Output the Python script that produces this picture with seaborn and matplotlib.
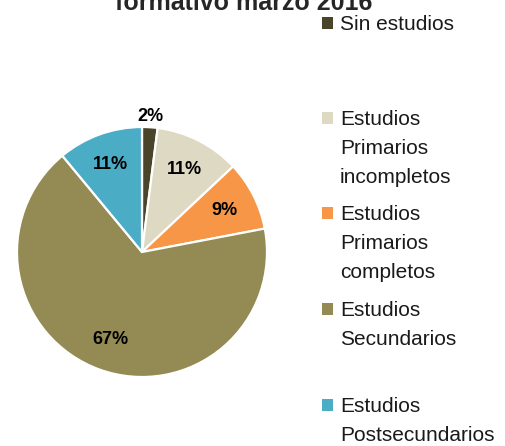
import matplotlib
matplotlib.use("Agg")
import matplotlib.pyplot as plt
from matplotlib.patches import Rectangle
import seaborn as sns

sns.set_theme(style="white")
plt.rcParams["font.family"] = ["Liberation Sans", "DejaVu Sans"]

# ------------------------------------------------------------
# DATA
# ------------------------------------------------------------
title = "formativo marzo 2016"
categorias = [
    "Sin estudios",
    "Estudios\nPrimarios\nincompletos",
    "Estudios\nPrimarios\ncompletos",
    "Estudios\nSecundarios",
    "Estudios\nPostsecundarios",
]
porcentajes = [2, 11, 9, 67, 11]
colores = ["#4a452a", "#ddd9c3", "#f79646", "#948a54", "#4bacc6"]

# ------------------------------------------------------------
# FIGURE
# ------------------------------------------------------------
W, H = 505, 446
fig = plt.figure(figsize=(W / 100, H / 100), dpi=100)
fig.patch.set_facecolor("white")

# pie: center (142, 252) px, radius 125 px
cx, cy, r = 142, 252, 125
pad = 1.1
side = 2 * r * pad
ax = fig.add_axes([(cx - r * pad) / W, (H - cy - r * pad) / H, side / W, side / H])

wedges, _, autotexts = ax.pie(
    porcentajes, colors=colores, startangle=90, counterclock=False,
    autopct=lambda p: f"{p:.0f}%", pctdistance=0.74,
    wedgeprops=dict(edgecolor="white", linewidth=1.6),
    textprops=dict(fontsize=13, fontweight="bold", color="black"),
)
ax.set_xlim(-pad, pad)
ax.set_ylim(-pad, pad)
ax.set_aspect("equal")
ax.axis("off")

# the 2% slice label sits outside the pie
x, y = autotexts[0].get_position()
autotexts[0].set_position((x / 0.74 * 1.09, y / 0.74 * 1.09))

# title (top partly cut off in the original)
fig.text(244 / W, 1 - 10 / H, title, ha="center", va="baseline",
         fontsize=18, fontweight="bold")

# legend, evenly spaced slots
first_lines = [23, 118, 213, 309, 405]
for lab, col, yc in zip(categorias, colores, first_lines):
    fig.patches.append(Rectangle((322 / W, 1 - (yc + 6) / H), 11 / W, 12 / H,
                                 transform=fig.transFigure, facecolor=col,
                                 edgecolor="none"))
    fig.text(340 / W, 1 - (yc - 8) / H, lab, ha="left", va="top",
             fontsize=15, linespacing=1.68, color="#1a1a1a")

fig.savefig("out.png", dpi=100, facecolor="white")
